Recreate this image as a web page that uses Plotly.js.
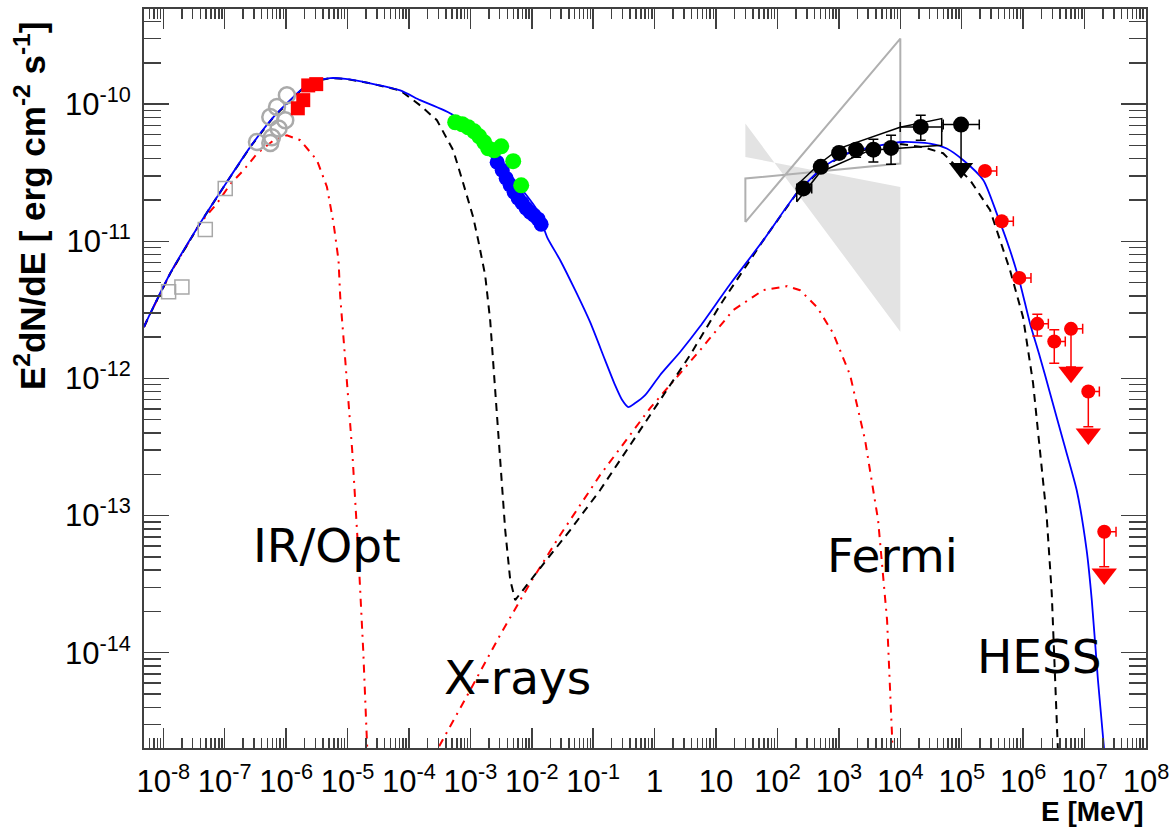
<!DOCTYPE html>
<html>
<head>
<meta charset="utf-8">
<script src="https://cdn.plot.ly/plotly-3.0.1.min.js"></script>
<style>html,body{margin:0;padding:0;background:#fff;}#chart{width:1169px;height:832px;}</style>
</head>
<body>
<div id="chart"></div>
<script>
// ---------- Axis ticks ----------
const xTickVals = [1e-8,1e-7,1e-6,1e-5,1e-4,1e-3,1e-2,1e-1,1,10,1e2,1e3,1e4,1e5,1e6,1e7,1e8];
const xTickText = ['10<sup>-8</sup>','10<sup>-7</sup>','10<sup>-6</sup>','10<sup>-5</sup>','10<sup>-4</sup>','10<sup>-3</sup>','10<sup>-2</sup>','10<sup>-1</sup>','1','10','10<sup>2</sup>','10<sup>3</sup>','10<sup>4</sup>','10<sup>5</sup>','10<sup>6</sup>','10<sup>7</sup>','10<sup>8</sup>'];
const yTickVals = [1e-14,1e-13,1e-12,1e-11,1e-10];
const yTickText = ['10<sup>-14</sup>','10<sup>-13</sup>','10<sup>-12</sup>','10<sup>-11</sup>','10<sup>-10</sup>'];

// ---------- Model curves (E [MeV], E^2 dN/dE [erg cm^-2 s^-1]) ----------
const totalE = [4.85e-9,5.77e-9,1.30e-8,4.00e-8,9.59e-8,2.61e-7,6.25e-7,1.32e-6,1.90e-6,3.18e-6,5.23e-6,9.18e-6,2.34e-5,7.21e-5,1.52e-4,5.25e-4,1.88e-3,3.42e-3,6.47e-3,1.22e-2,1.78e-2,2.90e-2,5.08e-2,8.91e-2,0.156,0.227,0.296,0.371,0.482,0.700,1.23,2.60,5.51,16.9,59.0,206,559,1343,4677,11200,30500,57000,1.06e5,2.25e5,3.71e5,6.11e5,8.89e5,1.29e6,1.88e6,2.74e6,4.45e6,7.45e6,1.08e7,1.31e7,1.65e7,2.07e7,2.3e7];
const totalF = [2.37e-12,2.81e-12,5.85e-12,1.36e-11,2.49e-11,4.88e-11,8.07e-11,1.13e-10,1.31e-10,1.48e-10,1.55e-10,1.53e-10,1.42e-10,1.26e-10,1.07e-10,8.30e-11,4.39e-11,3.47e-11,2.48e-11,1.69e-11,1.07e-11,7.28e-12,4.40e-12,2.57e-12,1.36e-12,8.93e-13,6.95e-13,6.18e-13,6.61e-13,7.55e-13,1.06e-12,1.56e-12,2.40e-12,4.86e-12,1.02e-11,2.24e-11,3.48e-11,4.36e-11,5.01e-11,5.30e-11,5.16e-11,4.75e-11,3.90e-11,2.79e-11,1.60e-11,8.61e-12,4.95e-12,2.53e-12,1.43e-12,7.81e-13,3.55e-13,1.53e-13,5.60e-14,2.42e-14,6.32e-15,2.02e-15,1.0e-15];

const dashedE = [4.85e-9,5.77e-9,1.30e-8,4.00e-8,9.59e-8,2.61e-7,6.25e-7,1.32e-6,1.90e-6,3.18e-6,5.23e-6,9.18e-6,2.34e-5,7.21e-5,1.52e-4,2.85e-4,5.25e-4,7.64e-4,1.11e-3,1.34e-3,1.74e-3,2.10e-3,2.53e-3,3.06e-3,3.69e-3,4.45e-3,5.36e-3,1.37e-2,4.22e-2,0.129,0.399,1.23,3.78,11.6,59.0,206,559,1343,4677,8750,23400,49700,1.37e5,2.89e5,6.11e5,9.95e5,1.45e6,1.88e6,2.42e6,2.92e6,3.30e6,3.69e6,3.9e6];
const dashedF = [2.37e-12,2.81e-12,5.85e-12,1.36e-11,2.49e-11,4.88e-11,8.07e-11,1.13e-10,1.31e-10,1.48e-10,1.55e-10,1.53e-10,1.42e-10,1.26e-10,9.80e-11,7.64e-11,4.62e-11,2.65e-11,1.50e-11,1.02e-11,5.66e-12,2.66e-12,8.22e-13,2.54e-13,7.84e-14,3.39e-14,2.42e-14,4.14e-14,7.84e-14,1.53e-13,3.27e-13,6.95e-13,1.48e-12,3.42e-12,1.02e-11,2.24e-11,3.48e-11,4.36e-11,4.90e-11,5.16e-11,4.86e-11,4.39e-11,2.79e-11,1.69e-11,6.15e-12,2.80e-12,9.25e-13,3.00e-13,9.75e-14,2.72e-14,6.32e-15,2.02e-15,1.0e-15];

const synE = [4.85e-9,5.77e-9,1.30e-8,4.00e-8,7.50e-8,1.23e-7,2.03e-7,3.35e-7,6.25e-7,1.03e-6,1.70e-6,2.18e-6,3.18e-6,4.62e-6,5.92e-6,7.13e-6,7.60e-6,9.18e-6,1.19e-5,1.49e-5,1.80e-5,2.09e-5,2.2e-5];
const synF = [2.37e-12,2.81e-12,5.85e-12,1.36e-11,1.89e-11,2.61e-11,3.30e-11,4.36e-11,5.46e-11,5.93e-11,5.46e-11,4.75e-11,3.90e-11,2.49e-11,1.35e-11,7.28e-12,3.94e-12,1.36e-12,3.00e-13,5.60e-14,1.04e-14,2.02e-15,1.0e-15];

const icE = [2.7e-4,2.99e-4,9.93e-4,3.06e-3,9.41e-3,2.90e-2,0.129,0.845,5.51,19.0,58.3,143.5,233,441,804,1520,2668,4345,6085,7621,8000];
const icF = [1.0e-15,2.02e-15,5.34e-15,1.35e-14,3.22e-14,7.21e-14,1.97e-13,6.08e-13,1.61e-12,3.15e-12,4.40e-12,4.71e-12,4.40e-12,3.31e-12,2.14e-12,1.06e-12,3.55e-13,9.27e-14,1.73e-14,2.02e-15,1.0e-15];

// ---------- Data points ----------
const radioE = [1.22e-8,2.01e-8,4.83e-8,1.02e-7];
const radioF = [4.28e-12,4.65e-12,1.22e-11,2.43e-11];

const irE = [3.35e-7,5.52e-7,5.88e-7,7.53e-7,5.52e-7,7.10e-7,9.68e-7,1.03e-6];
const irF = [5.30e-11,5.21e-11,5.74e-11,6.64e-11,8.07e-11,9.54e-11,7.63e-11,1.16e-10];

const optE = [1.55e-6,1.90e-6,2.29e-6,3.09e-6];
const optF = [9.33e-11,1.07e-10,1.37e-10,1.40e-10];

const uvotE = [5.66e-4,7.36e-4,9.22e-4,1.15e-3,1.39e-3,1.68e-3,1.95e-3,2.44e-3,3.18e-3,4.98e-3,6.72e-3];
const uvotF = [7.38e-11,7.14e-11,6.79e-11,6.34e-11,5.83e-11,5.27e-11,4.77e-11,4.61e-11,4.93e-11,3.84e-11,2.56e-11];

const xrtE = [2.73e-3,3.30e-3,3.83e-3,4.45e-3,5.16e-3,6.00e-3,6.97e-3,8.09e-3,9.39e-3,1.09e-2,1.27e-2,1.42e-2];
const xrtF = [3.77e-11,3.30e-11,2.88e-11,2.56e-11,2.28e-11,2.06e-11,1.90e-11,1.74e-11,1.63e-11,1.55e-11,1.45e-11,1.33e-11];

const fermiE = [264,507,1007,1905,3642,7063,21500];
const fermiF = [2.43e-11,3.49e-11,4.41e-11,4.66e-11,4.66e-11,4.80e-11,6.82e-11];
const fermiFhi = [2.59e-11,3.75e-11,4.78e-11,5.10e-11,5.55e-11,5.93e-11,8.29e-11];
const fermiFlo = [2.23e-11,3.22e-11,4.03e-11,4.10e-11,3.79e-11,3.65e-11,5.46e-11];
const fermiElo = [206,470,930,1800,3400,6600,9960];
const fermiEhi = [361,550,1090,2020,3900,7500,47500];

const fermiUlE = [97500];
const fermiUlF = [7.10e-11];
const fermiUlElo = [50000];
const fermiUlEhi = [193000];
const fermiUlLim = [3.41e-11];

const hessE = [2.39e5,4.48e5,8.66e5,1.70e6,3.21e6,6.01e6,1.15e7,2.09e7];
const hessF = [3.26e-11,1.40e-11,5.41e-12,2.50e-12,1.86e-12,2.30e-12,8.03e-13,7.62e-14];
const hessEhi = [3.71e5,6.92e5,1.34e6,2.57e6,4.85e6,9.31e6,1.74e7,3.25e7];
const hessFhi = [3.26e-11,1.40e-11,5.41e-12,2.94e-12,2.26e-12,2.30e-12,8.03e-13,7.62e-14];
const hessFlo = [3.26e-11,1.40e-11,5.41e-12,2.04e-12,1.29e-12,1.21e-12,4.44e-13,4.24e-14];
const hessUlE = [6.01e6,1.15e7,2.09e7];
const hessUlF = [1.11e-12,3.93e-13,3.75e-14];

// Bowties
const lateE = [30,1e4,1e4,30,30];
const lateF = [7.22e-11,2.19e-12,2.49e-11,4.12e-11,7.22e-11];
const earlyE = [30,1e4,1e4,30,30];
const earlyF = [1.38e-11,3.01e-10,3.69e-11,2.87e-11,1.38e-11];
const lineE = [206,494,1045,9900,47200,47200,3220,494,206,206];
const lineF = [2.56e-11,3.71e-11,4.78e-11,6.79e-11,7.85e-11,5.01e-11,4.62e-11,3.19e-11,1.94e-11,2.56e-11];

const sub = (a,b)=>a.map((v,i)=>v-b[i]);

const traces = [
  {x: lateE, y: lateF, mode:'lines', fill:'toself', fillcolor:'#e3e3e3', line:{width:0, color:'#e3e3e3'}, hoverinfo:'skip'},
  {x: earlyE, y: earlyF, mode:'lines', line:{color:'#b0b0b0', width:2}},
  {x: synE, y: synF, mode:'lines', line:{color:'#ff0000', width:2, dash:'8px,6px,2px,6px'}},
  {x: icE, y: icF, mode:'lines', line:{color:'#ff0000', width:2, dash:'8px,6px,2px,6px'}},
  {x: dashedE, y: dashedF, mode:'lines', line:{color:'#000000', width:2, dash:'8px,6px'}},
  {x: totalE, y: totalF, mode:'lines', line:{color:'#0000ff', width:1.8, shape:'spline', smoothing:0.6}},
  {x: radioE, y: radioF, mode:'markers', marker:{symbol:'square-open', size:14, color:'#a8a8a8', line:{width:1.5}}},
  {x: irE, y: irF, mode:'markers', marker:{symbol:'circle-open', size:16, color:'#aaaaaa', line:{width:2.5}}},
  {x: optE, y: optF, mode:'markers', marker:{symbol:'square', size:14, color:'#ff0000'}},
  {x: xrtE, y: xrtF, mode:'markers', marker:{symbol:'circle', size:15, color:'#0000ff'}},
  {x: uvotE, y: uvotF, mode:'markers', marker:{symbol:'circle', size:16, color:'#00ff00'}},
  {x: lineE, y: lineF, mode:'lines', line:{color:'#000000', width:1.5}},
  {x: fermiE, y: fermiF, mode:'markers', marker:{symbol:'circle', size:16, color:'#000000'},
   error_y:{type:'data', symmetric:false, array: sub(fermiFhi,fermiF), arrayminus: sub(fermiF,fermiFlo), color:'#000', thickness:1.5, width:5},
   error_x:{type:'data', symmetric:false, array: sub(fermiEhi,fermiE), arrayminus: sub(fermiE,fermiElo), color:'#000', thickness:1.5, width:5}},
  {x: fermiUlE, y: fermiUlF, mode:'markers', marker:{symbol:'circle', size:16, color:'#000000'},
   error_y:{type:'data', symmetric:false, array:[0], arrayminus: sub(fermiUlF,fermiUlLim), color:'#000', thickness:1.5, width:0},
   error_x:{type:'data', symmetric:false, array: sub(fermiUlEhi,fermiUlE), arrayminus: sub(fermiUlE,fermiUlElo), color:'#000', thickness:1.5, width:5}},
  {x: fermiUlE, y: fermiUlLim, mode:'markers', marker:{symbol:'triangle-down', size:21, color:'#000000'}},
  {x: hessE, y: hessF, mode:'markers', marker:{symbol:'circle', size:14, color:'#ff0000'},
   error_y:{type:'data', symmetric:false, array: sub(hessFhi,hessF), arrayminus: sub(hessF,hessFlo), color:'#ff0000', thickness:1.5, width:5},
   error_x:{type:'data', symmetric:false, array: sub(hessEhi,hessE), arrayminus: hessE.map(()=>0), color:'#ff0000', thickness:1.5, width:5}},
  {x: hessUlE, y: hessUlF, mode:'markers', marker:{symbol:'triangle-down', size:22, color:'#ff0000'}}
];

function minorVals(lo, hi){
  const out=[];
  for(let e=lo;e<=hi;e++){for(let m=2;m<=9;m++){out.push(m*Math.pow(10,e));}}
  return out;
}

const tickFont = {family:'Liberation Sans, Arial, sans-serif', size:31, color:'#000'};
const labelFont = {family:'DejaVu Sans, sans-serif', size:47, color:'#000'};

const layout = {
  width:1169, height:832,
  margin:{l:144, r:23, t:9, b:84},
  paper_bgcolor:'#fff', plot_bgcolor:'#fff',
  showlegend:false,
  xaxis:{type:'log', range:[-8.314, 8], tickmode:'array', tickvals:xTickVals, ticktext:xTickText,
    ticks:'inside', ticklen:20, tickwidth:1.5, tickcolor:'#404040',
    showline:true, linecolor:'#404040', linewidth:2, mirror:'allticks', showgrid:false, zeroline:false,
    tickfont:tickFont, ticklabelstandoff:5, ticklabeloverflow:'allow',
    minor:{tickmode:'array', tickvals:minorVals(-9,7), ticks:'inside', ticklen:10, tickwidth:1.5, tickcolor:'#404040', showgrid:false}},
  yaxis:{type:'log', range:[-14.695, -9.306], tickmode:'array', tickvals:yTickVals, ticktext:yTickText,
    ticks:'inside', ticklen:25, tickwidth:1.5, tickcolor:'#404040',
    showline:true, linecolor:'#404040', linewidth:2, mirror:'allticks', showgrid:false, zeroline:false,
    tickfont:tickFont, ticklabelstandoff:5,
    minor:{tickmode:'array', tickvals:minorVals(-15,-10), ticks:'inside', ticklen:17, tickwidth:1.5, tickcolor:'#404040', showgrid:false}},
  annotations:[
    {xref:'paper', yref:'paper', x:-0.113, y:0.733, xanchor:'center', yanchor:'middle', textangle:-90, showarrow:false,
     text:'<b>E<sup>2</sup>dN/dE [ erg cm<sup>-2</sup> s<sup>-1</sup>]</b>', font:{family:'Liberation Sans, Arial, sans-serif', size:35, color:'#000'}},
    {xref:'paper', yref:'paper', x:1.0, y:-0.0866, xanchor:'right', yanchor:'middle', showarrow:false,
     text:'<b>E [MeV]</b>', font:{family:'Liberation Sans, Arial, sans-serif', size:28, color:'#000'}},
    {xref:'x', yref:'y', x:-5.330, y:-13.215, showarrow:false, text:'IR/Opt', font:labelFont},
    {xref:'x', yref:'y', x:-2.238, y:-14.184, showarrow:false, text:'X-rays', font:labelFont},
    {xref:'x', yref:'y', x:3.866, y:-13.288, showarrow:false, text:'Fermi', font:labelFont},
    {xref:'x', yref:'y', x:6.274, y:-14.031, showarrow:false, text:'HESS', font:labelFont}
  ]
};

Plotly.newPlot('chart', traces, layout, {staticPlot:true, displayModeBar:false});
</script>
</body>
</html>
